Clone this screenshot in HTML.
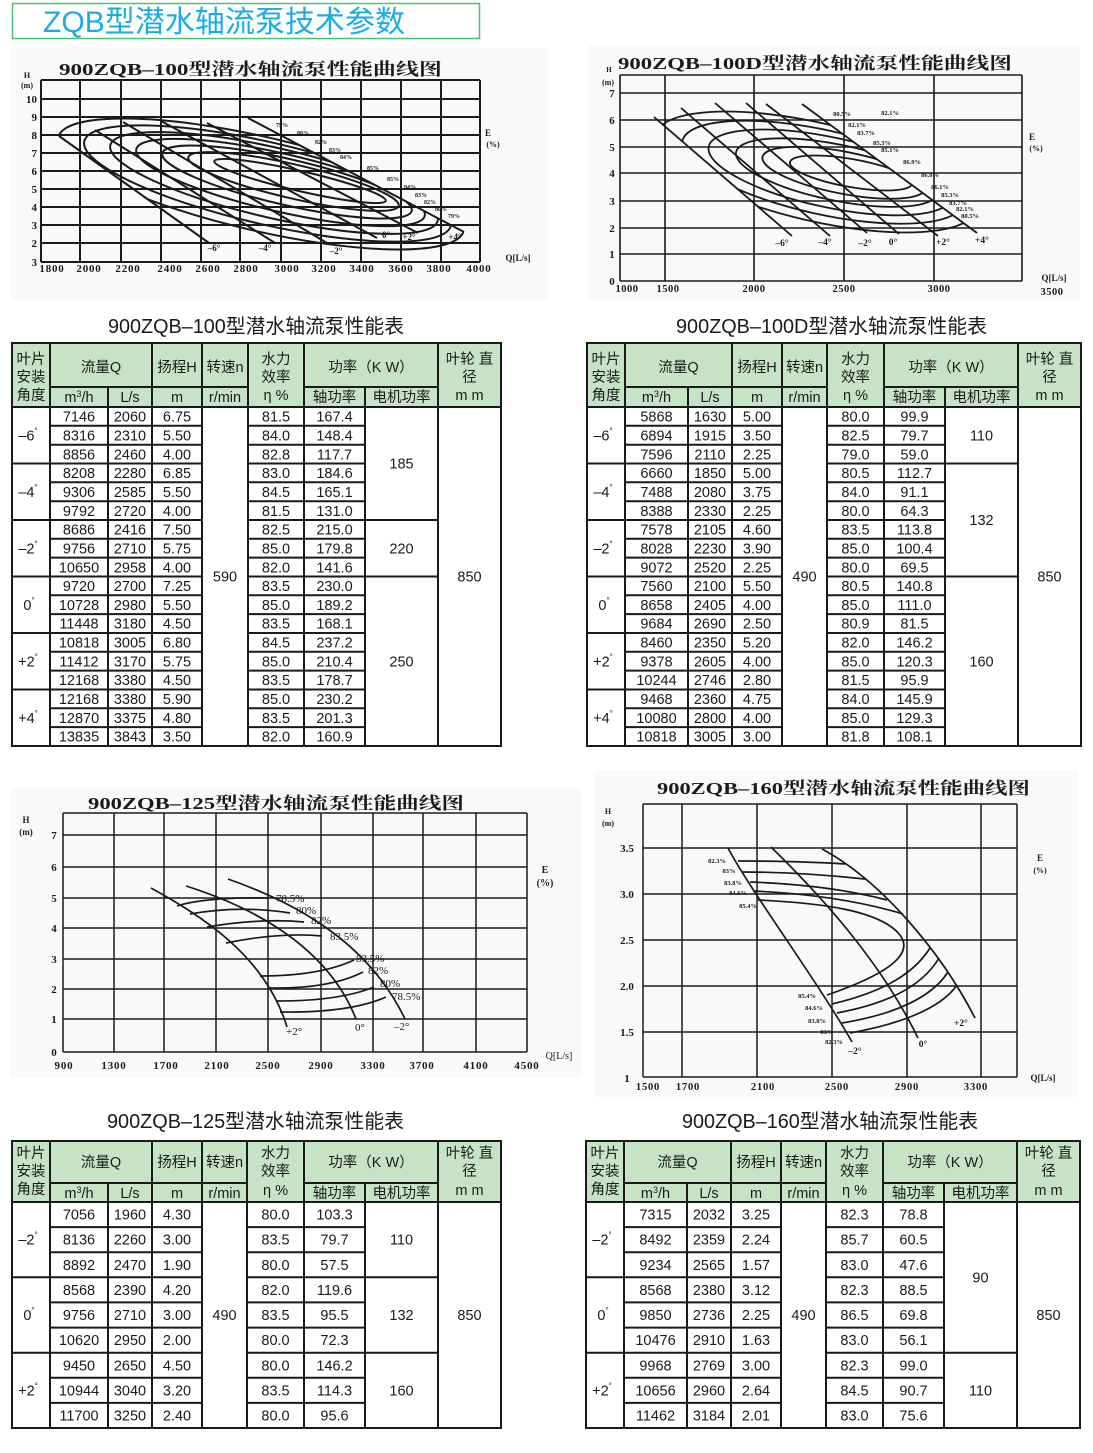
<!DOCTYPE html>
<html><head><meta charset="utf-8"><style>
html,body{margin:0;padding:0;background:#fff;}
svg{display:block;}
.s{font-family:"Liberation Sans","Noto Sans CJK SC",sans-serif;fill:#1a1a1a;}
.d{font-size:14.5px;text-anchor:middle;}
.h{font-size:14.5px;text-anchor:middle;}
.c{font-family:"Liberation Serif","Noto Serif CJK SC",serif;font-weight:bold;fill:#1a1a1a;}
.cr{font-family:"Liberation Serif","Noto Serif CJK SC",serif;fill:#1a1a1a;}
.ln{stroke:#1a1a1a;stroke-width:2;fill:none;}
.g{stroke:#1a1a1a;fill:none;}
</style></head><body>
<svg width="1093" height="1453" viewBox="0 0 1093 1453" xmlns="http://www.w3.org/2000/svg">
<defs>
<clipPath id="cp1"><polygon points="-48,60 138,60 593,300 289,300"/></clipPath>
<clipPath id="cp2"><polygon points="588,60 742,60 1068,300 866,300"/></clipPath>
</defs>

<!-- Header title -->
<rect x="12.5" y="3.5" width="467" height="35" fill="#fff" stroke="#4cc374" stroke-width="1.5"/>
<text x="43" y="32" font-size="30" textLength="362" lengthAdjust="spacingAndGlyphs" style="font-family:'Liberation Sans','Noto Sans CJK SC',sans-serif;fill:#19ade8;">ZQB型潜水轴流泵技术参数</text>

<!-- ============ CHART 1 ============ -->
<rect x="10" y="48" width="538" height="252" fill="#f9f9f9"/>
<path class="g" stroke-width="2" d="M41,80H480M41,99H480M41,117H480M41,135H480M41,153H480M41,171H480M41,189H480M41,207H480M41,225H480M41,243H480M41,262H480
M41,80V262M80,80V262M121,80V262M161,80V262M201,80V262M240,80V262M281,80V262M321,80V262M361,80V262M401,80V262M441,80V262M480,80V262"/>
<text class="c" x="59" y="75" font-size="17" textLength="383" lengthAdjust="spacingAndGlyphs">900ZQB–100型潜水轴流泵性能曲线图</text>
<text class="c" x="27" y="78" font-size="8" text-anchor="middle">H</text>
<text class="c" x="27" y="88" font-size="8" text-anchor="middle">(m)</text>
<g class="c" font-size="11" text-anchor="end">
<text x="37" y="103">10</text><text x="37" y="121">9</text><text x="37" y="139">8</text><text x="37" y="157">7</text><text x="37" y="175">6</text><text x="37" y="193">5</text><text x="37" y="211">4</text><text x="37" y="229">3</text><text x="37" y="247">2</text><text x="37" y="266">3</text>
</g>
<g class="c" font-size="11" text-anchor="middle" letter-spacing="0.8">
<text x="52" y="272">1800</text><text x="89" y="272">2000</text><text x="128" y="272">2200</text><text x="170" y="272">2400</text><text x="208" y="272">2600</text><text x="246" y="272">2800</text><text x="287" y="272">3000</text><text x="324" y="272">3200</text><text x="362" y="272">3400</text><text x="401" y="272">3600</text><text x="439" y="272">3800</text><text x="479" y="272">4000</text>
</g>
<text class="c" x="488" y="136" font-size="9" text-anchor="middle">E</text>
<text class="c" x="493" y="147" font-size="8" text-anchor="middle">(%)</text>
<text class="c" x="518" y="261" font-size="9" text-anchor="middle">Q[L/s]</text>
<path class="g" stroke-width="2" d="M59,136L209,243M95,130L275,243M123,122L327,243M161,121L377,238M207,123L418,233M248,118L464,232"/>
<g clip-path="url(#cp1)" class="g" stroke-width="2">
<ellipse cx="261" cy="184" rx="208" ry="47" transform="rotate(13 261 184)"/>
<ellipse cx="267.5" cy="183.5" rx="188" ry="41" transform="rotate(13 267.5 183.5)"/>
<ellipse cx="274" cy="183" rx="168" ry="35" transform="rotate(13 274 183)"/>
<ellipse cx="280.5" cy="182.5" rx="148" ry="29" transform="rotate(13 280.5 182.5)"/>
<ellipse cx="287" cy="182" rx="128" ry="23" transform="rotate(13 287 182)"/>
<ellipse cx="293.5" cy="181.5" rx="108" ry="17" transform="rotate(13 293.5 181.5)"/>
<ellipse cx="300" cy="181" rx="88" ry="10" transform="rotate(13 300 181)"/>
</g>
<g class="c" font-size="6" text-anchor="middle">
<text x="282" y="127">79%</text><text x="303" y="135">80%</text><text x="321" y="144">82%</text><text x="335" y="152">83%</text><text x="346" y="159">84%</text><text x="373" y="170">85%</text>
<text x="393" y="181">85%</text><text x="410" y="189">84%</text><text x="421" y="197">83%</text><text x="430" y="204">82%</text><text x="441" y="211">80%</text><text x="454" y="218">79%</text>
</g>
<g class="c" font-size="9" text-anchor="middle">
<text x="214" y="251">–6°</text><text x="265" y="251">–4°</text><text x="336" y="254">–2°</text><text x="386" y="238">0°</text><text x="409" y="240">+2°</text><text x="455" y="240">+4°</text>
</g>

<!-- ============ CHART 2 ============ -->
<rect x="588" y="46" width="492" height="254" fill="#f9f9f9"/>
<path class="g" stroke-width="1.6" d="M620,75H1022M620,93H1022M620,120H1022M620,147H1022M620,173H1022M620,201H1022M620,228H1022M620,254H1022M620,281H1022
M620,75V281M665,75V281M754,75V281M844,75V281M934,75V281M1022,75V281"/>
<text class="c" x="618" y="69" font-size="17" textLength="394" lengthAdjust="spacingAndGlyphs">900ZQB–100D型潜水轴流泵性能曲线图</text>
<text class="c" x="609" y="72" font-size="7" text-anchor="middle">H</text>
<text class="c" x="608" y="85" font-size="8" text-anchor="middle">(m)</text>
<g class="c" font-size="11" text-anchor="middle">
<text x="612" y="97">7</text><text x="612" y="124">6</text><text x="612" y="151">5</text><text x="612" y="177">4</text><text x="612" y="205">3</text><text x="612" y="232">2</text><text x="612" y="258">1</text><text x="612" y="285">0</text>
</g>
<g class="c" font-size="10.5" text-anchor="middle" letter-spacing="0.5">
<text x="627" y="292">1000</text><text x="668" y="292">1500</text><text x="754" y="292">2000</text><text x="844" y="292">2500</text><text x="939" y="292">3000</text><text x="1052" y="295">3500</text>
</g>
<text class="c" x="1032" y="140" font-size="9" text-anchor="middle">E</text>
<text class="c" x="1036" y="151" font-size="8" text-anchor="middle">(%)</text>
<text class="c" x="1054" y="281" font-size="9" text-anchor="middle">Q[L/s]</text>
<path class="g" stroke-width="1.8" d="M654,117L792,236M681,108L830,236M715,103L867,233M746,103L899,234M766,104L938,236M802,104L977,233"/>
<g clip-path="url(#cp2)" class="g" stroke-width="1.8">
<ellipse cx="816" cy="172" rx="165" ry="49" transform="rotate(13 816 172)"/>
<ellipse cx="823" cy="172.2" rx="144" ry="42" transform="rotate(12.5 823 172.2)"/>
<ellipse cx="830" cy="172.4" rx="124" ry="35" transform="rotate(12 830 172.4)"/>
<ellipse cx="837" cy="172.6" rx="103" ry="28" transform="rotate(11.5 837 172.6)"/>
<ellipse cx="844" cy="172.8" rx="83" ry="21" transform="rotate(11 844 172.8)"/>
<ellipse cx="851" cy="173" rx="62" ry="14" transform="rotate(10 851 173)"/>
</g>
<g class="c" font-size="6.5" text-anchor="middle">
<text x="842" y="116">80.5%</text><text x="890" y="115">82.1%</text><text x="857" y="127">82.1%</text><text x="866" y="135">83.7%</text><text x="882" y="145">85.3%</text><text x="890" y="152">85.1%</text><text x="912" y="164">86.9%</text><text x="930" y="177">86.0%</text><text x="940" y="189">86.1%</text><text x="950" y="197">85.3%</text><text x="958" y="205">83.7%</text><text x="965" y="211">82.1%</text><text x="970" y="218">80.5%</text>
</g>
<g class="c" font-size="9.5" text-anchor="middle">
<text x="782" y="246">–6°</text><text x="825" y="245">–4°</text><text x="865" y="246">–2°</text><text x="893" y="245">0°</text><text x="943" y="245">+2°</text><text x="982" y="243">+4°</text>
</g>

<!-- Table titles top -->
<text class="s" x="108" y="333" font-size="20" textLength="296" lengthAdjust="spacingAndGlyphs">900ZQB–100型潜水轴流泵性能表</text>
<text class="s" x="676" y="333" font-size="20" textLength="311" lengthAdjust="spacingAndGlyphs">900ZQB–100D型潜水轴流泵性能表</text>

<!-- ============ TABLE 1 ============ -->
<rect x="12" y="343" width="489" height="64" fill="#c6e4c5"/>
<rect x="12" y="407" width="489" height="339" fill="#fff"/>
<path class="ln" d="M12,343H501V746H12Z
M50,343V746M152,343V746M202,343V746M248,343V746M304,343V746M438,343V746M108,387V746M365,387V746
M50,387H248M304,387H438M12,407H501
M50,425.8H202M248,425.8H365M50,444.7H202M248,444.7H365M50,463.5H202M248,463.5H365M50,482.3H202M248,482.3H365M50,501.2H202M248,501.2H365M50,520H202M248,520H365
M50,538.8H202M248,538.8H365M50,557.6H202M248,557.6H365M50,576.5H202M248,576.5H365M50,595.3H202M248,595.3H365M50,614.1H202M248,614.1H365M50,633H202M248,633H365
M50,651.8H202M248,651.8H365M50,670.6H202M248,670.6H365M50,689.5H202M248,689.5H365M50,708.3H202M248,708.3H365M50,727.1H202M248,727.1H365
M12,463.5H50M12,520H50M12,576.5H50M12,633H50M12,689.5H50
M365,520H438M365,576.5H438"/>
<g class="s h">
<text x="31" y="364">叶片</text><text x="31" y="382">安装</text><text x="31" y="400">角度</text>
<text x="101" y="372">流量Q</text><text x="177" y="372">扬程H</text><text x="225" y="372">转速n</text>
<text x="276" y="364">水力</text><text x="276" y="382">效率</text><text x="276" y="400">η %</text>
<text x="371" y="372">功率（K W）</text>
<text x="469.5" y="364">叶轮 直</text><text x="469.5" y="382">径</text><text x="469.5" y="400">m m</text>
<text x="79" y="402">m<tspan font-size="9" dy="-5">3</tspan><tspan dy="5">/h</tspan></text>
<text x="130" y="402">L/s</text><text x="177" y="402">m</text><text x="225" y="402">r/min</text><text x="334.5" y="402">轴功率</text><text x="401.5" y="402">电机功率</text>
</g>
<g class="s d">
<text y="421.6"><tspan x="79">7146</tspan><tspan x="130">2060</tspan><tspan x="177">6.75</tspan><tspan x="276">81.5</tspan><tspan x="334.5">167.4</tspan></text>
<text y="440.4"><tspan x="79">8316</tspan><tspan x="130">2310</tspan><tspan x="177">5.50</tspan><tspan x="276">84.0</tspan><tspan x="334.5">148.4</tspan></text>
<text y="459.3"><tspan x="79">8856</tspan><tspan x="130">2460</tspan><tspan x="177">4.00</tspan><tspan x="276">82.8</tspan><tspan x="334.5">117.7</tspan></text>
<text y="478.1"><tspan x="79">8208</tspan><tspan x="130">2280</tspan><tspan x="177">6.85</tspan><tspan x="276">83.0</tspan><tspan x="334.5">184.6</tspan></text>
<text y="496.9"><tspan x="79">9306</tspan><tspan x="130">2585</tspan><tspan x="177">5.50</tspan><tspan x="276">84.5</tspan><tspan x="334.5">165.1</tspan></text>
<text y="515.8"><tspan x="79">9792</tspan><tspan x="130">2720</tspan><tspan x="177">4.00</tspan><tspan x="276">81.5</tspan><tspan x="334.5">131.0</tspan></text>
<text y="534.6"><tspan x="79">8686</tspan><tspan x="130">2416</tspan><tspan x="177">7.50</tspan><tspan x="276">82.5</tspan><tspan x="334.5">215.0</tspan></text>
<text y="553.4"><tspan x="79">9756</tspan><tspan x="130">2710</tspan><tspan x="177">5.75</tspan><tspan x="276">85.0</tspan><tspan x="334.5">179.8</tspan></text>
<text y="572.3"><tspan x="79">10650</tspan><tspan x="130">2958</tspan><tspan x="177">4.00</tspan><tspan x="276">82.0</tspan><tspan x="334.5">141.6</tspan></text>
<text y="591.1"><tspan x="79">9720</tspan><tspan x="130">2700</tspan><tspan x="177">7.25</tspan><tspan x="276">83.5</tspan><tspan x="334.5">230.0</tspan></text>
<text y="609.9"><tspan x="79">10728</tspan><tspan x="130">2980</tspan><tspan x="177">5.50</tspan><tspan x="276">85.0</tspan><tspan x="334.5">189.2</tspan></text>
<text y="628.7"><tspan x="79">11448</tspan><tspan x="130">3180</tspan><tspan x="177">4.50</tspan><tspan x="276">83.5</tspan><tspan x="334.5">168.1</tspan></text>
<text y="647.6"><tspan x="79">10818</tspan><tspan x="130">3005</tspan><tspan x="177">6.80</tspan><tspan x="276">84.5</tspan><tspan x="334.5">237.2</tspan></text>
<text y="666.4"><tspan x="79">11412</tspan><tspan x="130">3170</tspan><tspan x="177">5.75</tspan><tspan x="276">85.0</tspan><tspan x="334.5">210.4</tspan></text>
<text y="685.2"><tspan x="79">12168</tspan><tspan x="130">3380</tspan><tspan x="177">4.50</tspan><tspan x="276">83.5</tspan><tspan x="334.5">178.7</tspan></text>
<text y="704.1"><tspan x="79">12168</tspan><tspan x="130">3380</tspan><tspan x="177">5.90</tspan><tspan x="276">85.0</tspan><tspan x="334.5">230.2</tspan></text>
<text y="722.9"><tspan x="79">12870</tspan><tspan x="130">3375</tspan><tspan x="177">4.80</tspan><tspan x="276">83.5</tspan><tspan x="334.5">201.3</tspan></text>
<text y="741.7"><tspan x="79">13835</tspan><tspan x="130">3843</tspan><tspan x="177">3.50</tspan><tspan x="276">82.0</tspan><tspan x="334.5">160.9</tspan></text>
<text x="225" y="581.5">590</text><text x="469.5" y="581.5">850</text>
<text x="401.5" y="468.5">185</text><text x="401.5" y="553.3">220</text><text x="401.5" y="666.3">250</text>
<text x="28" y="440.4">–6<tspan font-size="8" dy="-7">°</tspan></text>
<text x="28" y="496.9">–4<tspan font-size="8" dy="-7">°</tspan></text>
<text x="28" y="553.4">–2<tspan font-size="8" dy="-7">°</tspan></text>
<text x="29" y="609.9">0<tspan font-size="8" dy="-7">°</tspan></text>
<text x="28" y="666.4">+2<tspan font-size="8" dy="-7">°</tspan></text>
<text x="28" y="722.9">+4<tspan font-size="8" dy="-7">°</tspan></text>
</g>

<!-- ============ TABLE 2 ============ -->
<rect x="587" y="343" width="494" height="64" fill="#c6e4c5"/>
<rect x="587" y="407" width="494" height="339" fill="#fff"/>
<path class="ln" d="M587,343H1081V746H587Z
M625,343V746M732,343V746M782,343V746M827,343V746M884,343V746M1018,343V746M688,387V746M945,387V746
M625,387H827M884,387H1018M587,407H1081
M625,425.8H782M827,425.8H945M625,444.7H782M827,444.7H945M625,463.5H782M827,463.5H945M625,482.3H782M827,482.3H945M625,501.2H782M827,501.2H945M625,520H782M827,520H945
M625,538.8H782M827,538.8H945M625,557.6H782M827,557.6H945M625,576.5H782M827,576.5H945M625,595.3H782M827,595.3H945M625,614.1H782M827,614.1H945M625,633H782M827,633H945
M625,651.8H782M827,651.8H945M625,670.6H782M827,670.6H945M625,689.5H782M827,689.5H945M625,708.3H782M827,708.3H945M625,727.1H782M827,727.1H945
M587,463.5H625M587,520H625M587,576.5H625M587,633H625M587,689.5H625
M945,463.5H1018M945,576.5H1018"/>
<g class="s h">
<text x="606" y="364">叶片</text><text x="606" y="382">安装</text><text x="606" y="400">角度</text>
<text x="678.5" y="372">流量Q</text><text x="757" y="372">扬程H</text><text x="804.5" y="372">转速n</text>
<text x="855.5" y="364">水力</text><text x="855.5" y="382">效率</text><text x="855.5" y="400">η %</text>
<text x="951" y="372">功率（K W）</text>
<text x="1049.5" y="364">叶轮 直</text><text x="1049.5" y="382">径</text><text x="1049.5" y="400">m m</text>
<text x="656.5" y="402">m<tspan font-size="9" dy="-5">3</tspan><tspan dy="5">/h</tspan></text>
<text x="710" y="402">L/s</text><text x="757" y="402">m</text><text x="804.5" y="402">r/min</text><text x="914.5" y="402">轴功率</text><text x="981.5" y="402">电机功率</text>
</g>
<g class="s d">
<text y="421.6"><tspan x="656.5">5868</tspan><tspan x="710">1630</tspan><tspan x="757">5.00</tspan><tspan x="855.5">80.0</tspan><tspan x="914.5">99.9</tspan></text>
<text y="440.4"><tspan x="656.5">6894</tspan><tspan x="710">1915</tspan><tspan x="757">3.50</tspan><tspan x="855.5">82.5</tspan><tspan x="914.5">79.7</tspan></text>
<text y="459.3"><tspan x="656.5">7596</tspan><tspan x="710">2110</tspan><tspan x="757">2.25</tspan><tspan x="855.5">79.0</tspan><tspan x="914.5">59.0</tspan></text>
<text y="478.1"><tspan x="656.5">6660</tspan><tspan x="710">1850</tspan><tspan x="757">5.00</tspan><tspan x="855.5">80.5</tspan><tspan x="914.5">112.7</tspan></text>
<text y="496.9"><tspan x="656.5">7488</tspan><tspan x="710">2080</tspan><tspan x="757">3.75</tspan><tspan x="855.5">84.0</tspan><tspan x="914.5">91.1</tspan></text>
<text y="515.8"><tspan x="656.5">8388</tspan><tspan x="710">2330</tspan><tspan x="757">2.25</tspan><tspan x="855.5">80.0</tspan><tspan x="914.5">64.3</tspan></text>
<text y="534.6"><tspan x="656.5">7578</tspan><tspan x="710">2105</tspan><tspan x="757">4.60</tspan><tspan x="855.5">83.5</tspan><tspan x="914.5">113.8</tspan></text>
<text y="553.4"><tspan x="656.5">8028</tspan><tspan x="710">2230</tspan><tspan x="757">3.90</tspan><tspan x="855.5">85.0</tspan><tspan x="914.5">100.4</tspan></text>
<text y="572.3"><tspan x="656.5">9072</tspan><tspan x="710">2520</tspan><tspan x="757">2.25</tspan><tspan x="855.5">80.0</tspan><tspan x="914.5">69.5</tspan></text>
<text y="591.1"><tspan x="656.5">7560</tspan><tspan x="710">2100</tspan><tspan x="757">5.50</tspan><tspan x="855.5">80.5</tspan><tspan x="914.5">140.8</tspan></text>
<text y="609.9"><tspan x="656.5">8658</tspan><tspan x="710">2405</tspan><tspan x="757">4.00</tspan><tspan x="855.5">85.0</tspan><tspan x="914.5">111.0</tspan></text>
<text y="628.7"><tspan x="656.5">9684</tspan><tspan x="710">2690</tspan><tspan x="757">2.50</tspan><tspan x="855.5">80.9</tspan><tspan x="914.5">81.5</tspan></text>
<text y="647.6"><tspan x="656.5">8460</tspan><tspan x="710">2350</tspan><tspan x="757">5.20</tspan><tspan x="855.5">82.0</tspan><tspan x="914.5">146.2</tspan></text>
<text y="666.4"><tspan x="656.5">9378</tspan><tspan x="710">2605</tspan><tspan x="757">4.00</tspan><tspan x="855.5">85.0</tspan><tspan x="914.5">120.3</tspan></text>
<text y="685.2"><tspan x="656.5">10244</tspan><tspan x="710">2746</tspan><tspan x="757">2.80</tspan><tspan x="855.5">81.5</tspan><tspan x="914.5">95.9</tspan></text>
<text y="704.1"><tspan x="656.5">9468</tspan><tspan x="710">2360</tspan><tspan x="757">4.75</tspan><tspan x="855.5">84.0</tspan><tspan x="914.5">145.9</tspan></text>
<text y="722.9"><tspan x="656.5">10080</tspan><tspan x="710">2800</tspan><tspan x="757">4.00</tspan><tspan x="855.5">85.0</tspan><tspan x="914.5">129.3</tspan></text>
<text y="741.7"><tspan x="656.5">10818</tspan><tspan x="710">3005</tspan><tspan x="757">3.00</tspan><tspan x="855.5">81.8</tspan><tspan x="914.5">108.1</tspan></text>
<text x="804.5" y="581.5">490</text><text x="1049.5" y="581.5">850</text>
<text x="981.5" y="440.3">110</text><text x="981.5" y="525">132</text><text x="981.5" y="666.3">160</text>
<text x="603" y="440.4">–6<tspan font-size="8" dy="-7">°</tspan></text>
<text x="603" y="496.9">–4<tspan font-size="8" dy="-7">°</tspan></text>
<text x="603" y="553.4">–2<tspan font-size="8" dy="-7">°</tspan></text>
<text x="604" y="609.9">0<tspan font-size="8" dy="-7">°</tspan></text>
<text x="603" y="666.4">+2<tspan font-size="8" dy="-7">°</tspan></text>
<text x="603" y="722.9">+4<tspan font-size="8" dy="-7">°</tspan></text>
</g>

<!-- ============ CHART 3 ============ -->
<rect x="10" y="788" width="571" height="290" fill="#f9f9f9"/>
<path class="g" stroke-width="1.5" d="M63,813H527M63,835H527M63,867H527M63,898H527M63,928H527M63,959H527M63,989H527M63,1019H527M63,1052H527
M63,813V1052M114,813V1052M164,813V1052M216,813V1052M268,813V1052M321,813V1052M373,813V1052M423,813V1052M476,813V1052M527,813V1052"/>
<text class="c" x="88" y="809" font-size="17" textLength="376" lengthAdjust="spacingAndGlyphs">900ZQB–125型潜水轴流泵性能曲线图</text>
<text class="c" x="26" y="823" font-size="9" text-anchor="middle">H</text>
<text class="c" x="26" y="835" font-size="9" text-anchor="middle">(m)</text>
<g class="c" font-size="11" text-anchor="middle">
<text x="54" y="839">7</text><text x="54" y="871">6</text><text x="54" y="902">5</text><text x="54" y="932">4</text><text x="54" y="963">3</text><text x="54" y="993">2</text><text x="54" y="1023">1</text><text x="54" y="1056">0</text>
</g>
<g class="c" font-size="11" text-anchor="middle" letter-spacing="0.8">
<text x="64" y="1069">900</text><text x="114" y="1069">1300</text><text x="166" y="1069">1700</text><text x="217" y="1069">2100</text><text x="268" y="1069">2500</text><text x="321" y="1069">2900</text><text x="373" y="1069">3300</text><text x="422" y="1069">3700</text><text x="476" y="1069">4100</text><text x="527" y="1069">4500</text>
</g>
<text class="c" x="545" y="873" font-size="10" text-anchor="middle">E</text>
<text class="c" x="545" y="886" font-size="10" text-anchor="middle">(%)</text>
<text class="cr" x="559" y="1059" font-size="10" text-anchor="middle">Q[L/s]</text>
<g class="g" stroke-width="1.7">
<path d="M151,888C200,915 265,955 287,1027"/>
<path d="M186,886C240,903 325,940 356,1019"/>
<path d="M228,879C282,898 365,935 405,1019"/>
<path d="M177,906Q205,897 268,898"/>
<path d="M190,914Q240,905 290,913"/>
<path d="M207,927Q260,918 304,922"/>
<path d="M226,943Q280,932 322,936"/>
<path d="M260,976Q320,976 354,960"/>
<path d="M269,988Q330,989 363,972"/>
<path d="M277,1001Q340,1001 374,987"/>
<path d="M280,1012Q350,1013 386,997"/>
</g>
<g class="cr" font-size="11">
<text x="276" y="902">78.5%</text><text x="296" y="914">80%</text><text x="311" y="924">82%</text><text x="330" y="940">83.5%</text>
<text x="356" y="962">83.5%</text><text x="368" y="974">82%</text><text x="380" y="987">80%</text><text x="392" y="1000">78.5%</text>
<text x="286" y="1035">+2°</text><text x="355" y="1031">0°</text><text x="394" y="1030">–2°</text>
</g>

<!-- ============ CHART 4 ============ -->
<rect x="595" y="770" width="483" height="327" fill="#f9f9f9"/>
<path class="g" stroke-width="1.5" d="M643,804H1017M643,848H1017M643,894H1017M643,940H1017M643,986H1017M643,1032H1017M643,1077H1017
M643,804V1077M682,804V1077M757,804V1077M832,804V1077M907,804V1077M981,804V1077M1017,804V1077"/>
<text class="c" x="657" y="794" font-size="17" textLength="373" lengthAdjust="spacingAndGlyphs">900ZQB–160型潜水轴流泵性能曲线图</text>
<text class="c" x="608" y="814" font-size="8" text-anchor="middle">H</text>
<text class="c" x="608" y="826" font-size="8" text-anchor="middle">(m)</text>
<g class="c" font-size="11" text-anchor="middle">
<text x="627" y="852">3.5</text><text x="627" y="898">3.0</text><text x="627" y="944">2.5</text><text x="627" y="990">2.0</text><text x="627" y="1036">1.5</text><text x="627" y="1082">1</text>
</g>
<g class="c" font-size="10.5" text-anchor="middle" letter-spacing="0.8">
<text x="648" y="1090">1500</text><text x="688" y="1090">1700</text><text x="763" y="1090">2100</text><text x="837" y="1090">2500</text><text x="907" y="1090">2900</text><text x="976" y="1090">3300</text>
</g>
<text class="c" x="1040" y="861" font-size="9" text-anchor="middle">E</text>
<text class="c" x="1040" y="873" font-size="8" text-anchor="middle">(%)</text>
<text class="c" x="1043" y="1081" font-size="9" text-anchor="middle">Q[L/s]</text>
<g class="g" stroke-width="1.7">
<path d="M728,848C750,890 820,985 852,1042"/>
<path d="M771,847C820,895 880,960 918,1038"/>
<path d="M822,849C880,880 940,950 975,1018"/>
<path d="M738,861Q800,861 845,864"/>
<path d="M742,872Q800,872 865,879"/>
<path d="M750,882Q830,885 887,900"/>
<path d="M753,891Q840,895 903,914"/>
<path d="M758,900C820,903 880,910 900,935C915,955 885,975 827,995"/>
<path d="M832,1004C870,995 910,980 930,948"/>
<path d="M837,1013C880,1005 920,990 939,958"/>
<path d="M842,1023C890,1015 930,1000 948,972"/>
<path d="M850,1033C895,1025 940,1010 957,985"/>
</g>
<g class="c" font-size="6.5" text-anchor="middle">
<text x="717" y="863">82.3%</text><text x="729" y="873">83%</text><text x="733" y="885">83.8%</text><text x="738" y="895">84.6%</text><text x="748" y="908">85.4%</text>
<text x="807" y="998">85.4%</text><text x="814" y="1010">84.6%</text><text x="817" y="1023">83.8%</text><text x="827" y="1034">83%</text><text x="834" y="1044">82.3%</text>
</g>
<g class="c" font-size="9.5" text-anchor="middle">
<text x="855" y="1054">–2°</text><text x="923" y="1047">0°</text><text x="961" y="1026">+2°</text>
</g>

<!-- Table titles bottom -->
<text class="s" x="107" y="1128" font-size="20" textLength="297" lengthAdjust="spacingAndGlyphs">900ZQB–125型潜水轴流泵性能表</text>
<text class="s" x="682" y="1128" font-size="20" textLength="296" lengthAdjust="spacingAndGlyphs">900ZQB–160型潜水轴流泵性能表</text>

<!-- ============ TABLE 3 ============ -->
<rect x="12" y="1141" width="489" height="61" fill="#c6e4c5"/>
<rect x="12" y="1202" width="489" height="226" fill="#fff"/>
<path class="ln" d="M12,1141H501V1428H12Z
M50,1141V1428M152,1141V1428M202,1141V1428M247,1141V1428M304,1141V1428M438,1141V1428M108,1183V1428M365,1183V1428
M50,1183H247M304,1183H438M12,1202H501
M50,1227.1H202M247,1227.1H365M50,1252.2H202M247,1252.2H365M50,1277.3H202M247,1277.3H365M50,1302.4H202M247,1302.4H365
M50,1327.6H202M247,1327.6H365M50,1352.7H202M247,1352.7H365M50,1377.8H202M247,1377.8H365M50,1402.9H202M247,1402.9H365
M12,1277.3H50M12,1352.7H50M365,1277.3H438M365,1352.7H438"/>
<g class="s h">
<text x="31" y="1158">叶片</text><text x="31" y="1176">安装</text><text x="31" y="1194">角度</text>
<text x="101" y="1167">流量Q</text><text x="177" y="1167">扬程H</text><text x="224.5" y="1167">转速n</text>
<text x="275.5" y="1158">水力</text><text x="275.5" y="1176">效率</text><text x="275.5" y="1195">η %</text>
<text x="371" y="1167">功率（K W）</text>
<text x="469.5" y="1158">叶轮 直</text><text x="469.5" y="1176">径</text><text x="469.5" y="1195">m m</text>
<text x="79" y="1198">m<tspan font-size="9" dy="-5">3</tspan><tspan dy="5">/h</tspan></text>
<text x="130" y="1198">L/s</text><text x="177" y="1198">m</text><text x="224.5" y="1198">r/min</text><text x="334.5" y="1198">轴功率</text><text x="401.5" y="1198">电机功率</text>
</g>
<g class="s d">
<text y="1219.6"><tspan x="79">7056</tspan><tspan x="130">1960</tspan><tspan x="177">4.30</tspan><tspan x="275.5">80.0</tspan><tspan x="334.5">103.3</tspan></text>
<text y="1244.7"><tspan x="79">8136</tspan><tspan x="130">2260</tspan><tspan x="177">3.00</tspan><tspan x="275.5">83.5</tspan><tspan x="334.5">79.7</tspan></text>
<text y="1269.8"><tspan x="79">8892</tspan><tspan x="130">2470</tspan><tspan x="177">1.90</tspan><tspan x="275.5">80.0</tspan><tspan x="334.5">57.5</tspan></text>
<text y="1294.9"><tspan x="79">8568</tspan><tspan x="130">2390</tspan><tspan x="177">4.20</tspan><tspan x="275.5">82.0</tspan><tspan x="334.5">119.6</tspan></text>
<text y="1320"><tspan x="79">9756</tspan><tspan x="130">2710</tspan><tspan x="177">3.00</tspan><tspan x="275.5">83.5</tspan><tspan x="334.5">95.5</tspan></text>
<text y="1345.1"><tspan x="79">10620</tspan><tspan x="130">2950</tspan><tspan x="177">2.00</tspan><tspan x="275.5">80.0</tspan><tspan x="334.5">72.3</tspan></text>
<text y="1370.3"><tspan x="79">9450</tspan><tspan x="130">2650</tspan><tspan x="177">4.50</tspan><tspan x="275.5">80.0</tspan><tspan x="334.5">146.2</tspan></text>
<text y="1395.4"><tspan x="79">10944</tspan><tspan x="130">3040</tspan><tspan x="177">3.20</tspan><tspan x="275.5">83.5</tspan><tspan x="334.5">114.3</tspan></text>
<text y="1420.5"><tspan x="79">11700</tspan><tspan x="130">3250</tspan><tspan x="177">2.40</tspan><tspan x="275.5">80.0</tspan><tspan x="334.5">95.6</tspan></text>
<text x="224.5" y="1320">490</text><text x="469.5" y="1320">850</text>
<text x="401.5" y="1244.7">110</text><text x="401.5" y="1320">132</text><text x="401.5" y="1395.4">160</text>
<text x="28" y="1244.7">–2<tspan font-size="8" dy="-7">°</tspan></text>
<text x="29" y="1320">0<tspan font-size="8" dy="-7">°</tspan></text>
<text x="28" y="1395.4">+2<tspan font-size="8" dy="-7">°</tspan></text>
</g>

<!-- ============ TABLE 4 ============ -->
<rect x="586" y="1141" width="494" height="61" fill="#c6e4c5"/>
<rect x="586" y="1202" width="494" height="226" fill="#fff"/>
<path class="ln" d="M586,1141H1080V1428H586Z
M624,1141V1428M731,1141V1428M781,1141V1428M826,1141V1428M883,1141V1428M1017,1141V1428M687,1183V1428M944,1183V1428
M624,1183H826M883,1183H1017M586,1202H1080
M624,1227.1H781M826,1227.1H944M624,1252.2H781M826,1252.2H944M624,1277.3H781M826,1277.3H944M624,1302.4H781M826,1302.4H944
M624,1327.6H781M826,1327.6H944M624,1352.7H781M826,1352.7H944M624,1377.8H781M826,1377.8H944M624,1402.9H781M826,1402.9H944
M586,1277.3H624M586,1352.7H624M944,1352.7H1017"/>
<g class="s h">
<text x="605" y="1158">叶片</text><text x="605" y="1176">安装</text><text x="605" y="1194">角度</text>
<text x="677.5" y="1167">流量Q</text><text x="756" y="1167">扬程H</text><text x="803.5" y="1167">转速n</text>
<text x="854.5" y="1158">水力</text><text x="854.5" y="1176">效率</text><text x="854.5" y="1195">η %</text>
<text x="950" y="1167">功率（K W）</text>
<text x="1048.5" y="1158">叶轮 直</text><text x="1048.5" y="1176">径</text><text x="1048.5" y="1195">m m</text>
<text x="655.5" y="1198">m<tspan font-size="9" dy="-5">3</tspan><tspan dy="5">/h</tspan></text>
<text x="709" y="1198">L/s</text><text x="756" y="1198">m</text><text x="803.5" y="1198">r/min</text><text x="913.5" y="1198">轴功率</text><text x="980.5" y="1198">电机功率</text>
</g>
<g class="s d">
<text y="1219.6"><tspan x="655.5">7315</tspan><tspan x="709">2032</tspan><tspan x="756">3.25</tspan><tspan x="854.5">82.3</tspan><tspan x="913.5">78.8</tspan></text>
<text y="1244.7"><tspan x="655.5">8492</tspan><tspan x="709">2359</tspan><tspan x="756">2.24</tspan><tspan x="854.5">85.7</tspan><tspan x="913.5">60.5</tspan></text>
<text y="1269.8"><tspan x="655.5">9234</tspan><tspan x="709">2565</tspan><tspan x="756">1.57</tspan><tspan x="854.5">83.0</tspan><tspan x="913.5">47.6</tspan></text>
<text y="1294.9"><tspan x="655.5">8568</tspan><tspan x="709">2380</tspan><tspan x="756">3.12</tspan><tspan x="854.5">82.3</tspan><tspan x="913.5">88.5</tspan></text>
<text y="1320"><tspan x="655.5">9850</tspan><tspan x="709">2736</tspan><tspan x="756">2.25</tspan><tspan x="854.5">86.5</tspan><tspan x="913.5">69.8</tspan></text>
<text y="1345.1"><tspan x="655.5">10476</tspan><tspan x="709">2910</tspan><tspan x="756">1.63</tspan><tspan x="854.5">83.0</tspan><tspan x="913.5">56.1</tspan></text>
<text y="1370.3"><tspan x="655.5">9968</tspan><tspan x="709">2769</tspan><tspan x="756">3.00</tspan><tspan x="854.5">82.3</tspan><tspan x="913.5">99.0</tspan></text>
<text y="1395.4"><tspan x="655.5">10656</tspan><tspan x="709">2960</tspan><tspan x="756">2.64</tspan><tspan x="854.5">84.5</tspan><tspan x="913.5">90.7</tspan></text>
<text y="1420.5"><tspan x="655.5">11462</tspan><tspan x="709">3184</tspan><tspan x="756">2.01</tspan><tspan x="854.5">83.0</tspan><tspan x="913.5">75.6</tspan></text>
<text x="803.5" y="1320">490</text><text x="1048.5" y="1320">850</text>
<text x="980.5" y="1282.3">90</text><text x="980.5" y="1395.4">110</text>
<text x="602" y="1244.7">–2<tspan font-size="8" dy="-7">°</tspan></text>
<text x="603" y="1320">0<tspan font-size="8" dy="-7">°</tspan></text>
<text x="602" y="1395.4">+2<tspan font-size="8" dy="-7">°</tspan></text>
</g>
</svg>
</body></html>
